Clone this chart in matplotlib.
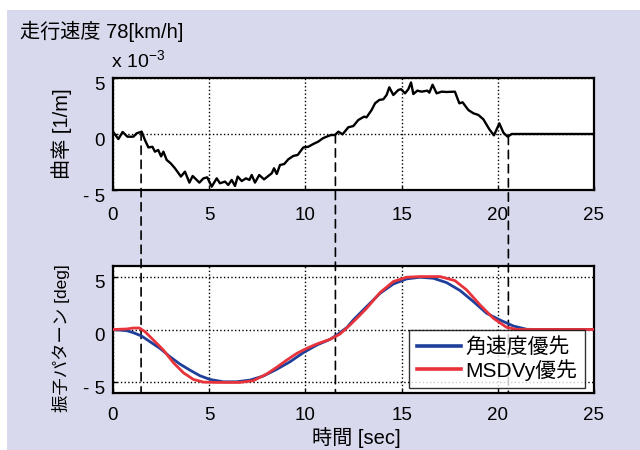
import numpy as np
import matplotlib
matplotlib.use("Agg")
import matplotlib.pyplot as plt
import matplotlib.transforms as mtransforms
from matplotlib.patches import ConnectionPatch, Rectangle

plt.rcParams['font.family'] = ['Liberation Sans', 'Noto Sans CJK JP']
plt.rcParams['mathtext.fontset'] = 'custom'
plt.rcParams['mathtext.rm'] = 'Liberation Sans'

# ---- data ----
curv_t = [0.0, 0.28, 0.5, 0.75, 1.06, 1.23, 1.49, 1.66, 1.84, 2.05,
          2.18, 2.35, 2.5, 2.62, 2.79, 3.0, 3.22, 3.53, 3.74, 3.97,
          4.14, 4.49, 4.7, 4.9, 5.13, 5.39, 5.56, 5.82, 5.99, 6.17,
          6.34, 6.48, 6.69, 6.91, 7.09, 7.21, 7.38, 7.6, 7.85, 8.07,
          8.25, 8.37, 8.51, 8.68, 8.9, 9.11, 9.37, 9.6, 9.89, 10.15,
          10.4, 10.67, 10.9, 11.1, 11.33, 11.54, 11.71, 11.93, 12.23, 12.49,
          12.75, 13.05, 13.18, 13.44, 13.62, 13.84, 14.05, 14.22, 14.36, 14.57,
          14.83, 14.97, 15.18, 15.35, 15.49, 15.61, 15.82, 16.04, 16.34, 16.44,
          16.61, 16.82, 17.08, 17.34, 17.77, 18.0, 18.17, 18.47, 18.73, 18.99,
          19.25, 19.56, 19.8, 20.08, 20.29, 20.51, 20.72, 25.0]
curv_v = [0.2, -0.45, 0.18, -0.24, -0.24, 0.06, 0.21, -0.54, -1.2, -1.14,
          -1.58, -1.43, -2.0, -1.58, -2.32, -2.62, -3.06, -3.8, -3.36, -4.34,
          -3.75, -4.34, -3.96, -3.87, -4.7, -3.96, -4.4, -4.25, -4.55, -4.1,
          -4.64, -3.8, -4.2, -3.96, -4.1, -3.66, -4.34, -3.66, -4.05, -3.75,
          -3.51, -3.06, -3.57, -2.77, -2.68, -2.26, -1.96, -1.87, -1.2, -1.14,
          -0.9, -0.68, -0.39, -0.24, -0.09, -0.09, 0.21, -0.03, 0.6, 0.71,
          1.25, 1.55, 1.49, 2.14, 2.74, 3.04, 3.1, 3.48, 4.17, 3.48,
          3.93, 4.0, 3.63, 4.0, 4.6, 3.57, 3.87, 3.78, 3.87, 3.69,
          4.4, 3.63, 3.78, 3.75, 3.78, 2.74, 2.83, 2.14, 1.85, 1.7,
          1.31, 0.42, -0.12, 0.95, 0.12, -0.24, 0.0, 0.0]

blue_t = [0, 0.71, 1.06, 1.49, 1.92, 2.44, 2.96, 3.48, 4.0, 4.52,
          5.04, 5.73, 6.43, 7.12, 7.81, 8.5, 9.2, 9.89, 10.59, 11.28,
          11.63, 12.15, 12.49, 13.18, 13.88, 14.57, 15.26, 15.96, 16.65, 17.34,
          18.04, 18.73, 19.42, 20.11, 20.81, 21.5, 22.0, 25.0]
blue_v = [0, -0.11, -0.3, -0.62, -1.15, -1.78, -2.57, -3.27, -3.84, -4.37,
          -4.72, -4.94, -4.94, -4.78, -4.4, -3.77, -3.05, -2.19, -1.47, -0.93,
          -0.52, 0.18, 0.9, 2.16, 3.42, 4.3, 4.78, 4.94, 4.84, 4.43,
          3.68, 2.64, 1.53, 0.9, 0.33, 0.02, 0, 0]

red_t = [0, 0.71, 1.06, 1.37, 1.66, 2.1, 2.62, 3.14, 3.66, 4.18,
         4.7, 5.39, 6.6, 7.29, 7.99, 8.5, 9.03, 9.55, 10.07, 10.59,
         11.28, 11.8, 12.32, 12.75, 13.18, 13.88, 14.57, 15.26, 15.96, 17.0,
         17.77, 18.38, 19.08, 19.77, 20.46, 20.98, 25.0]
red_v = [0, 0.05, 0.14, 0.14, -0.2, -0.99, -1.94, -3.14, -4.09, -4.72,
         -4.97, -5.0, -5.0, -4.84, -4.2, -3.58, -2.89, -2.26, -1.78, -1.37,
         -0.93, -0.43, 0.43, 1.2, 2.0, 3.49, 4.53, 4.94, 5.0, 5.0,
         4.62, 3.74, 2.32, 1.06, 0.2, 0, 0]

mark_t = [1.46, 11.56, 20.55]

x_ticks = [0, 5, 10, 15, 20, 25]
y_ticks = [-5, 0, 5]
y_ticklabels = ['- 5', '0', '5']

series_labels = ['角速度優先', 'MSDVy優先']
title_text = '走行速度 78[km/h]'
scale_text = r'x 10$^{\mathregular{-3}}$'
ylabel_top = '曲率 [1/m]'
ylabel_bot = '振子パターン [deg]'
xlabel_text = '時間 [sec]'

# ---- figure ----
W, H = 640, 450
fig = plt.figure(figsize=(W / 100, H / 100), dpi=100)
fig.patch.set_facecolor('white')
fig.add_artist(Rectangle((7 / W, 0), 1 - 7 / W, 1 - 10 / H, transform=fig.transFigure,
                         facecolor='#D9D9EE', edgecolor='none', zorder=-10))

L, R = 113, 594
ax1 = fig.add_axes([L / W, 1 - 190 / H, (R - L) / W, (190 - 78) / H])
ax2 = fig.add_axes([L / W, 1 - 393 / H, (R - L) / W, (393 - 266) / H])

TICK_FS = 13.5
LABEL_FS = 14.5
down = mtransforms.ScaledTranslation(0, -5 / 100, fig.dpi_scale_trans)

for ax, xpad in ((ax1, 12), (ax2, 10)):
    ax.set_facecolor('white')
    ax.set_xlim(0, 25)
    ax.set_xticks(x_ticks)
    ax.set_xticklabels([str(v) for v in x_ticks])
    ax.set_yticks(y_ticks)
    ax.set_yticklabels(y_ticklabels)
    ax.tick_params(direction='in', length=3, width=1, labelsize=TICK_FS, colors='black')
    ax.tick_params(axis='x', pad=xpad)
    ax.tick_params(axis='y', pad=6)
    ax.grid(True, linestyle=':', color='black', linewidth=1.0)
    for s in ax.spines.values():
        s.set_linewidth(1.6)
        s.set_color('black')
    for lbl in ax.get_yticklabels():
        lbl.set_transform(lbl.get_transform() + down)

ax1.set_ylim(-5, 5)
ax2.set_ylim(-6, 6)

ax1.plot(curv_t, curv_v, color='black', lw=1.7, zorder=3)
ax2.plot(blue_t, blue_v, color='#1F3F9A', lw=2.0, label=series_labels[0], zorder=3)
ax2.plot(red_t, red_v, color='#E8333A', lw=2.0, label=series_labels[1], zorder=4)

mark_y = np.interp(mark_t, curv_t, curv_v)
for xv, yv in zip(mark_t, mark_y):
    cp = ConnectionPatch(xyA=(xv, yv), coordsA=ax1.transData,
                         xyB=(xv, -6), coordsB=ax2.transData,
                         linestyle=(0, (5, 3.5)), color='black', lw=1.2,
                         clip_on=False, zorder=2)
    ax2.add_artist(cp)

leg = ax2.legend(loc='lower right', bbox_to_anchor=((585 - L) / (R - L), (393 - 388) / (393 - 266)),
                 fontsize=15, frameon=True, fancybox=False, edgecolor='black',
                 borderpad=0.35, handlelength=2.1, handletextpad=0.25, labelspacing=0.1,
                 borderaxespad=0.0)
leg.get_frame().set_linewidth(1.0)
leg.set_zorder(10)
for line in leg.get_lines():
    line.set_linewidth(2.6)

fig.text(20 / W, 1 - 31 / H, title_text, fontsize=LABEL_FS, ha='left', va='center')
fig.text(111 / W, 1 - 61 / H, scale_text, fontsize=14, ha='left', va='center')
fig.text(62 / W, 1 - 134 / H, ylabel_top, fontsize=LABEL_FS, rotation=90, ha='center', va='center')
fig.text(61 / W, 1 - 338 / H, ylabel_bot, fontsize=12.5, rotation=90, ha='center', va='center')
fig.text(356 / W, 1 - 438 / H, xlabel_text, fontsize=LABEL_FS, ha='center', va='center')

fig.savefig('out.png', dpi=100)
